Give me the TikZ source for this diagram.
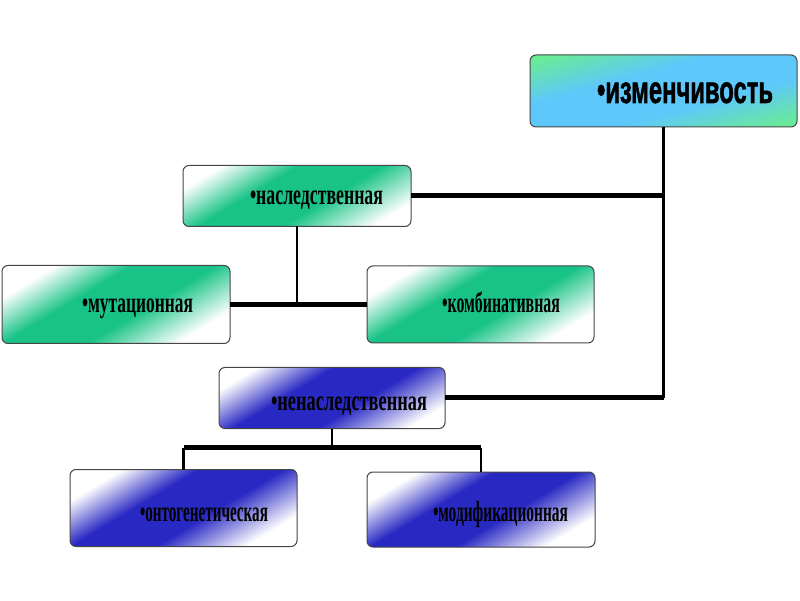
\documentclass[tikz,border=0pt]{standalone}
\usepackage{fontspec}
\setmainfont{Liberation Serif}
\newfontfamily\sansbold{Liberation Sans}[BoldFeatures={FakeBold=1.5}]
\usetikzlibrary{calc}
\definecolor{gmid}{RGB}{25,195,135}
\definecolor{bmid}{RGB}{40,40,195}
\definecolor{tgreen}{RGB}{105,235,150}
\definecolor{tblue}{RGB}{95,200,250}
\definecolor{edge}{RGB}{70,70,70}
\pgfdeclarehorizontalshading{gshade}{100bp}{color(0bp)=(white); color(25bp)=(white); color(32bp)=(white); color(43bp)=(gmid); color(55bp)=(gmid); color(68bp)=(white); color(75bp)=(white); color(100bp)=(white)}
\pgfdeclarehorizontalshading{bshade}{100bp}{color(0bp)=(white); color(25bp)=(white); color(32bp)=(white); color(43bp)=(bmid); color(55bp)=(bmid); color(68bp)=(white); color(75bp)=(white); color(100bp)=(white)}
\pgfdeclarehorizontalshading{tshade}{100bp}{color(0bp)=(tgreen); color(27bp)=(tgreen); color(42bp)=(tblue); color(58bp)=(tblue); color(73bp)=(tgreen); color(100bp)=(tgreen)}
\newcommand\serlbl[2]{\resizebox{#1pt}{29pt}{\bfseries\rule{0pt}{1em}#2}}
% shade the top box along its diagonal: #1 node, #2 shading, #3 width, #4 height
\newcommand\shadebox[4]{%
  \begin{scope}
    \clip[rounded corners=6pt] (#1.south west) rectangle (#1.north east);
    \begin{scope}[transform canvas={shift={(#1.center)}, xscale=#3/100, yscale=#4/100, rotate=-45}]
      \shade[shading=#2] (-71,-71) rectangle (71,71);
    \end{scope}
  \end{scope}
  \draw[boxborder] (#1.south west) rectangle (#1.north east);
}
% shade a box along a fixed slanted axis: #1 node, #2 shading
\newcommand\slantbox[2]{%
  \begin{scope}
    \clip[rounded corners=6pt] (#1.south west) rectangle (#1.north east);
    \begin{scope}[transform canvas={shift={(#1.center)}, rotate=-59}]
      \shade[shading=#2] (-90,-150) rectangle (90,150);
    \end{scope}
  \end{scope}
  \draw[boxborder] (#1.south west) rectangle (#1.north east);
}
\tikzset{
  box/.style={inner sep=0pt, outer sep=0pt},
  boxborder/.style={draw=edge, line width=1pt, rounded corners=6pt},
  lbl/.style={inner sep=0pt, outer sep=0pt, anchor=base west},
  hline/.style={line width=5pt, black},
  vline/.style={line width=2.5pt, black},
}
\begin{document}
\begin{tikzpicture}[x=1pt, y=1pt]
\useasboundingbox[fill=white] (0,0) rectangle (800,600);
% boxes
\node[box, minimum width=267pt, minimum height=72pt] (izm) at (663.5,509) {};
\node[box, minimum width=228pt, minimum height=61pt] (nasl) at (297,404) {};
\node[box, minimum width=228pt, minimum height=78pt] (mut) at (116,295.5) {};
\node[box, minimum width=227pt, minimum height=77pt] (komb) at (480.5,295.5) {};
\node[box, minimum width=226pt, minimum height=61pt] (nened) at (332,202) {};
\node[box, minimum width=227pt, minimum height=77pt] (ontog) at (183.5,92) {};
\node[box, minimum width=228pt, minimum height=75pt] (modif) at (481,90.5) {};
\shadebox{izm}{tshade}{267}{72}
\slantbox{nasl}{gshade}
\slantbox{mut}{gshade}
\slantbox{komb}{gshade}
\slantbox{nened}{bshade}
\slantbox{ontog}{bshade}
\slantbox{modif}{bshade}
% connectors
\draw[vline] (izm.south) -- (izm.south |- nened.east);
\draw[hline] (nasl.east) -- (nasl.east -| izm.south);
\draw[hline] (nened.east) -- (nened.east -| izm.south);
\draw[vline] (nasl.south) -- (nasl.south |- mut.east);
\draw[hline] (mut.east) -- (komb.west);
\coordinate (j) at ($(nened.south)+(0,-19)$);
\draw[vline] (nened.south) -- (j);
\draw[hline] (j -| ontog.north) -- (j -| modif.north);
\draw[vline] (j -| ontog.north) -- (ontog.north);
\draw[vline] (j -| modif.north) -- (modif.north);
% labels
\node[lbl] (tizm) at (597,497) {\resizebox{176pt}{38.5pt}{\sansbold\bfseries\rule{0pt}{1em}•изменчивость}};
\node[lbl] (tnasl) at (250,395) {\serlbl{133}{•наследственная}};
\node[lbl] (tmut) at (82,287) {\serlbl{111}{•мутационная}};
\node[lbl] (tkomb) at (442,287) {\serlbl{118}{•комбинативная}};
\node[lbl] (tnened) at (271,189) {\serlbl{156}{•ненаследственная}};
\node[lbl] (tontog) at (140,79) {\serlbl{128}{•онтогенетическая}};
\node[lbl] (tmodif) at (433,79) {\serlbl{135}{•модификационная}};
\end{tikzpicture}
\end{document}
